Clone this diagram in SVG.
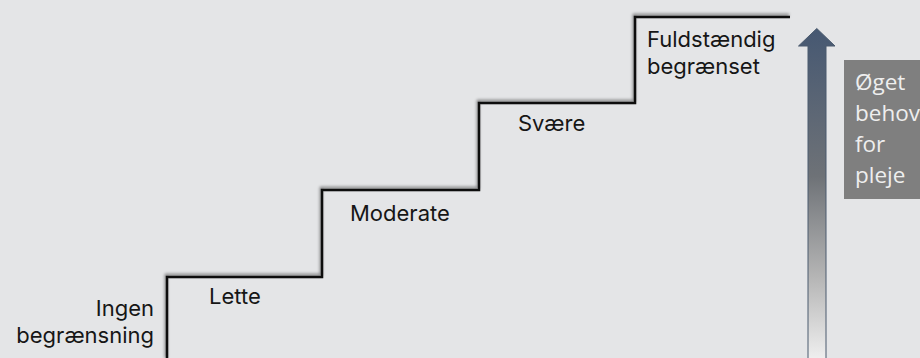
<svg xmlns="http://www.w3.org/2000/svg" width="920" height="358" viewBox="0 0 920 358">
  <style>
    .lbl { font-family: Inter, "Liberation Sans", sans-serif; font-size: 22px; font-weight: 400; fill: #161616; }
    .box { font-family: "Open Sans", "Liberation Sans", sans-serif; font-size: 22.5px; fill: #eeeeee; }
    .stair { fill: none; stroke: #111; stroke-width: 2.5; stroke-linejoin: miter; }
  </style>
  <defs>
    <filter id="shadow" x="-10%" y="-10%" width="120%" height="120%">
      <feDropShadow dx="-1" dy="-2" stdDeviation="1.6" flood-color="#000" flood-opacity="0.45"/>
    </filter>
    <linearGradient id="arrowGrad" x1="0" y1="28" x2="0" y2="358" gradientUnits="userSpaceOnUse">
      <stop offset="0" stop-color="#465872"/>
      <stop offset="0.45" stop-color="#6e7277"/>
      <stop offset="0.75" stop-color="#b4b4b4"/>
      <stop offset="1" stop-color="#eeeeee"/>
    </linearGradient>
  </defs>
  <rect width="920" height="358" fill="#e4e5e7"/>

  <g id="connectors">
    <path id="stairs" class="stair" filter="url(#shadow)" d="M167,360 V277 H322 V190 H479 V103 H635 V17 H790"/>
    <path id="arrow" d="M808,360 V46 H798.5 L816.8,28.5 L835,46 H826 V360 Z" fill="url(#arrowGrad)" stroke="#4a5a6e" stroke-width="1"/>
  </g>

  <g id="node-ingen">
    <text class="lbl" x="154" y="316" text-anchor="end">Ingen</text>
    <text class="lbl" x="154" y="343" text-anchor="end">begrænsning</text>
  </g>
  <g id="node-lette">
    <text class="lbl" x="209" y="304">Lette</text>
  </g>
  <g id="node-moderate">
    <text class="lbl" x="350" y="221">Moderate</text>
  </g>
  <g id="node-svaere">
    <text class="lbl" x="518" y="131">Svære</text>
  </g>
  <g id="node-fuld">
    <text class="lbl" x="647" y="47">Fuldstændig</text>
    <text class="lbl" x="647" y="74">begrænset</text>
  </g>
  <g id="node-behov">
    <rect x="844" y="60" width="80" height="139" fill="#7f7f7f"/>
    <text class="box" x="855" y="90">Øget</text>
    <text class="box" x="855" y="121">behov</text>
    <text class="box" x="855" y="152">for</text>
    <text class="box" x="855" y="183">pleje</text>
  </g>
</svg>
